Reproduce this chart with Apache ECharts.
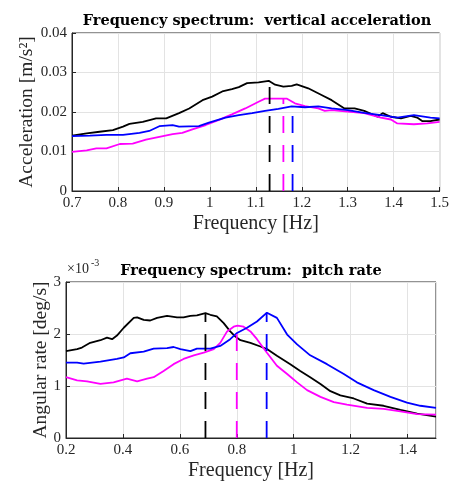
<!DOCTYPE html>
<html lang="en">
<head>
  <meta charset="UTF-8">
  <script type="text/javascript" src="https://cdn.jsdelivr.net/npm/echarts@6/dist/echarts.min.js"></script>
  <title>Frequency spectrum</title>
  <style type="text/css">
    * { margin: 0; padding: 0; }
    html, body { width: 100%; height: 100%; background-color: #fff; }
    #chart { width: 452px; height: 482px; }
  </style>
</head>
<body>
<div id="chart"></div>
<script type="text/javascript">
  // vertical acceleration spectrum [Hz, m/s^2]
  var accBlack = [[0.7,0.0140],[0.732,0.0146],[0.76,0.0150],[0.789,0.0154],[0.811,0.0163],[0.825,0.0170],[0.854,0.0175],[0.883,0.0184],[0.905,0.0184],[0.933,0.0197],[0.955,0.0209],[0.984,0.0230],[1.005,0.0239],[1.027,0.0252],[1.048,0.0258],[1.063,0.0263],[1.081,0.0273],[1.106,0.0275],[1.128,0.0279],[1.142,0.0269],[1.16,0.0264],[1.178,0.0266],[1.189,0.0270],[1.214,0.0260],[1.243,0.0243],[1.265,0.0230],[1.293,0.0209],[1.315,0.0209],[1.336,0.0203],[1.365,0.0188],[1.376,0.0197],[1.394,0.0188],[1.416,0.0184],[1.437,0.0190],[1.451,0.0186],[1.462,0.0177],[1.48,0.0177],[1.5,0.0181]];
  var accMagenta = [[0.7,0.0099],[0.732,0.0103],[0.753,0.0108],[0.775,0.0108],[0.804,0.0119],[0.832,0.0120],[0.861,0.0130],[0.89,0.0137],[0.919,0.0144],[0.94,0.0147],[0.962,0.0156],[0.991,0.0167],[1.02,0.0180],[1.048,0.0194],[1.077,0.0209],[1.106,0.0226],[1.12,0.0234],[1.149,0.0234],[1.167,0.0234],[1.185,0.0222],[1.207,0.0215],[1.236,0.0209],[1.25,0.0203],[1.265,0.0205],[1.3,0.0201],[1.336,0.0197],[1.372,0.0186],[1.394,0.0181],[1.408,0.0171],[1.444,0.0169],[1.473,0.0171],[1.5,0.0175]];
  var accBlue = [[0.7,0.0139],[0.739,0.0140],[0.775,0.0142],[0.811,0.0142],[0.847,0.0147],[0.868,0.0152],[0.89,0.0164],[0.919,0.0167],[0.933,0.0163],[0.976,0.0164],[0.998,0.0173],[1.034,0.0186],[1.063,0.0192],[1.092,0.0197],[1.12,0.0203],[1.149,0.0208],[1.178,0.0214],[1.207,0.0212],[1.236,0.0214],[1.265,0.0209],[1.3,0.0205],[1.336,0.0198],[1.372,0.0192],[1.408,0.0186],[1.444,0.0192],[1.48,0.0186],[1.5,0.0184]];
  var accPeakFreq = [1.13, 1.16, 1.18];
  var accPeakVal = [0.0279, 0.0234, 0.0214];

  // pitch rate spectrum [Hz, 1e-3 deg/s]
  var pitchBlack = [[0.2,1.67],[0.239,1.71],[0.256,1.74],[0.285,1.83],[0.321,1.88],[0.344,1.93],[0.362,1.90],[0.379,1.97],[0.403,2.12],[0.438,2.31],[0.45,2.32],[0.473,2.27],[0.496,2.26],[0.52,2.31],[0.555,2.35],[0.59,2.32],[0.613,2.32],[0.637,2.35],[0.66,2.36],[0.69,2.40],[0.707,2.37],[0.73,2.34],[0.754,2.21],[0.777,2.05],[0.795,1.95],[0.813,1.88],[0.848,1.83],[0.883,1.76],[0.906,1.71],[0.941,1.58],[0.988,1.42],[1.023,1.29],[1.058,1.17],[1.094,1.04],[1.129,0.90],[1.164,0.82],[1.211,0.76],[1.258,0.66],[1.316,0.62],[1.375,0.54],[1.434,0.47],[1.5,0.41]];
  var pitchMagenta = [[0.2,1.17],[0.239,1.11],[0.274,1.09],[0.321,1.04],[0.367,1.07],[0.414,1.14],[0.45,1.09],[0.485,1.14],[0.508,1.17],[0.543,1.29],[0.578,1.42],[0.613,1.52],[0.649,1.59],[0.684,1.64],[0.719,1.71],[0.742,1.83],[0.766,2.05],[0.789,2.14],[0.803,2.16],[0.824,2.14],[0.848,2.05],[0.871,1.90],[0.906,1.64],[0.941,1.39],[0.977,1.23],[1.012,1.07],[1.047,0.92],[1.094,0.79],[1.141,0.69],[1.187,0.64],[1.258,0.58],[1.316,0.56],[1.375,0.51],[1.434,0.46],[1.5,0.45]];
  var pitchBlue = [[0.2,1.45],[0.239,1.45],[0.262,1.43],[0.321,1.47],[0.379,1.52],[0.403,1.55],[0.426,1.63],[0.473,1.66],[0.508,1.72],[0.555,1.73],[0.578,1.75],[0.602,1.71],[0.637,1.67],[0.66,1.72],[0.707,1.72],[0.742,1.77],[0.777,1.90],[0.801,2.02],[0.836,2.12],[0.871,2.24],[0.906,2.41],[0.941,2.31],[0.977,1.99],[1.012,1.80],[1.058,1.59],[1.117,1.42],[1.176,1.23],[1.222,1.07],[1.281,0.92],[1.34,0.79],[1.398,0.68],[1.445,0.62],[1.5,0.58]];
  var pitchPeakFreq = [0.69, 0.80, 0.905];
  var pitchPeakVal = [2.40, 2.16, 2.41];

  var colors = ['#000000', '#ff00ff', '#0000ff'];
  var serif = 'Liberation Serif';
  var ink = '#262626';

  function xAxisCfg(idx, min, max, step) {
    return {
      type: 'value', gridIndex: idx, min: min, max: max, interval: step,
      name: 'Frequency [Hz]', nameLocation: 'middle', nameGap: 23, nameMoveOverlap: false,
      nameTextStyle: { fontFamily: serif, fontSize: 20, color: ink },
      axisLine: { onZero: false, lineStyle: { color: ink } },
      axisTick: { inside: true, length: 4, lineStyle: { color: ink } },
      axisLabel: { fontFamily: serif, fontSize: 15, color: ink, margin: 5, showMaxLabel: idx === 0 },
      splitLine: { show: true, lineStyle: { color: '#e3e3e3' } }
    };
  }
  function yAxisCfg(idx, max, step, name, gap) {
    return {
      type: 'value', gridIndex: idx, min: 0, max: max, interval: step,
      name: name, nameLocation: 'middle', nameGap: gap, nameRotate: 90, nameMoveOverlap: false,
      nameTextStyle: { fontFamily: serif, fontSize: 19.5, color: ink },
      axisLine: { show: true, lineStyle: { color: ink } },
      axisTick: { show: true, inside: true, length: 4, lineStyle: { color: ink } },
      axisLabel: { fontFamily: serif, fontSize: 15, color: ink, margin: 5 },
      splitLine: { show: true, lineStyle: { color: '#e3e3e3' } }
    };
  }

  var series = [];
  [accBlack, accMagenta, accBlue].forEach(function (d, i) {
    series.push({ type: 'line', xAxisIndex: 0, yAxisIndex: 0, data: d, showSymbol: false,
      lineStyle: { color: colors[i], width: 1.8 } });
  });
  accPeakFreq.forEach(function (f, i) {
    series.push({ type: 'line', xAxisIndex: 0, yAxisIndex: 0, data: [[f, 0], [f, accPeakVal[i]]], showSymbol: false,
      lineStyle: { color: colors[i], width: 1.8, type: [17, 12] } });
  });
  [pitchBlack, pitchMagenta, pitchBlue].forEach(function (d, i) {
    series.push({ type: 'line', xAxisIndex: 1, yAxisIndex: 1, data: d, showSymbol: false,
      lineStyle: { color: colors[i], width: 1.8 } });
  });
  pitchPeakFreq.forEach(function (f, i) {
    series.push({ type: 'line', xAxisIndex: 1, yAxisIndex: 1, data: [[f, 0], [f, pitchPeakVal[i]]], showSymbol: false,
      lineStyle: { color: colors[i], width: 1.8, type: [17, 12] } });
  });

  var myChart = echarts.init(document.getElementById('chart'));
  var option = {
    animation: false,
    backgroundColor: '#fff',
    title: [
      { text: 'Frequency spectrum:  vertical acceleration', left: 252, top: 9, textAlign: 'center',
        textStyle: { fontFamily: 'DejaVu Serif', fontWeight: 'bold', fontSize: 14.5, color: '#000' } },
      { text: 'Frequency spectrum:  pitch rate', left: 246, top: 259, textAlign: 'center',
        textStyle: { fontFamily: 'DejaVu Serif', fontWeight: 'bold', fontSize: 14.5, color: '#000' } }
    ],
    grid: [
      { left: 72, top: 33, width: 370, height: 158, show: true, borderColor: ink, borderWidth: 1 },
      { left: 66, top: 282, width: 370, height: 158, show: true, borderColor: ink, borderWidth: 1 }
    ],
    xAxis: [xAxisCfg(0, 0.7, 1.5, 0.1), xAxisCfg(1, 0.2, 1.5, 0.2)],
    yAxis: [yAxisCfg(0, 0.04, 0.01, 'Acceleration [m/s²]', 35), yAxisCfg(1, 3, 1, 'Angular rate [deg/s]', 15)],
    graphic: [
      { type: 'text', left: 67, top: 262, style: { text: '×10', font: '14px "Liberation Serif"', fill: ink } },
      { type: 'text', left: 91, top: 258, style: { text: '-3', font: '10px "Liberation Serif"', fill: ink } }
    ],
    series: series
  };
  myChart.setOption(option);
</script>
</body>
</html>
